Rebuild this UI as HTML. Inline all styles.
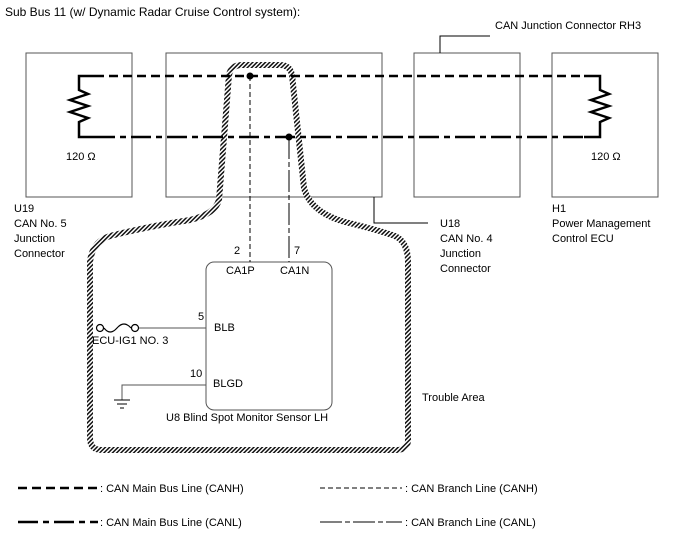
<!DOCTYPE html>
<html><head><meta charset="utf-8"><style>
body{margin:0;background:#fff}
svg{display:block;font-family:"Liberation Sans",Arial,sans-serif;font-size:11px}
</style></head><body>
<svg width="688" height="560" viewBox="0 0 688 560">
<defs>
<pattern id="h" width="3" height="3" patternUnits="userSpaceOnUse" patternTransform="rotate(45)">
<rect width="3" height="3" fill="#fff"/><rect width="1.5" height="3" fill="#111"/>
</pattern>
</defs>
<text x="5" y="16" font-size="12">Sub Bus 11 (w/ Dynamic Radar Cruise Control system):</text>
<g fill="none" stroke="#555" stroke-width="1">
<rect x="26" y="53" width="106" height="144"/>
<rect x="166" y="53" width="216" height="144"/>
<rect x="414" y="53" width="106" height="144"/>
<rect x="552" y="53" width="106" height="144"/>
<rect x="206" y="262" width="126" height="148" rx="8"/>
</g>
<!-- trouble area -->
<path d="M219,200 L229,75 Q231,65 242,65 L280,65 Q290,65 292,75 L304,188 Q310,212 345,222 Q378,230 395,236 Q408,242 408,262 L408,440 Q408,450 396,450 L102,450 Q90,450 90,438 L90,262 Q92,242 110,236 Q150,226 190,220 Q215,214 219,200 Z" fill="none" stroke="url(#h)" stroke-width="6"/>
<g fill="none" stroke="#000">
<!-- resistors -->
<path d="M95,76 L79,76 L79,90 L88,94 L70,100 L88,106 L70,112 L88,118 L79,122 L79,137 L95,137" stroke-width="2.5"/>
<path d="M584,76 L600,76 L600,90 L609,94 L591,100 L609,106 L591,112 L609,118 L600,122 L600,137 L584,137" stroke-width="2.5"/>
<line x1="95" y1="76" x2="584" y2="76" stroke-width="2.5" stroke-dasharray="9,5"/>
<line x1="95" y1="137" x2="584" y2="137" stroke-width="2.5" stroke-dasharray="20,5,6,5"/>
<line x1="250" y1="76" x2="250" y2="262" stroke-width="1" stroke-dasharray="5,3"/>
<line x1="289" y1="137" x2="289" y2="262" stroke-width="1" stroke-dasharray="22,3,5,3"/>
<!-- leaders -->
<path d="M440,53 L440,36 L490,36" stroke-width="1"/>
<path d="M374,197 L374,223 L428,223" stroke-width="1"/>
<!-- fuse / ground -->
<circle cx="100" cy="328" r="3.5" stroke-width="1.2"/>
<circle cx="135" cy="328" r="3.5" stroke-width="1.2"/>
<path d="M104,328 Q110,336 117,328 Q124,320 131,328" stroke-width="1.2"/>
<line x1="139" y1="328" x2="206" y2="328" stroke="#555"/>
<path d="M206,385 L122,385 L122,400" stroke="#555"/>
<line x1="114" y1="400" x2="130" y2="400"/>
<line x1="117" y1="404" x2="127" y2="404"/>
<line x1="120" y1="408" x2="124" y2="408"/>
<!-- legend -->
<line x1="18" y1="488" x2="98" y2="488" stroke-width="2.5" stroke-dasharray="9,5"/>
<line x1="320" y1="488" x2="402" y2="488" stroke-width="1" stroke-dasharray="5,3"/>
<line x1="18" y1="522" x2="98" y2="522" stroke-width="2.5" stroke-dasharray="20,5,6,5"/>
<line x1="320" y1="522" x2="402" y2="522" stroke-width="1" stroke-dasharray="22,3,5,3"/>
</g>
<circle cx="250" cy="76" r="3.5"/><circle cx="289" cy="137" r="3.5"/>
<text x="66" y="160">120 Ω</text>
<text x="591" y="160">120 Ω</text>
<text x="495" y="29">CAN Junction Connector RH3</text>
<text x="14" y="212">U19</text><text x="14" y="227">CAN No. 5</text><text x="14" y="242">Junction</text><text x="14" y="257">Connector</text>
<text x="440" y="227">U18</text><text x="440" y="242">CAN No. 4</text><text x="440" y="257">Junction</text><text x="440" y="272">Connector</text>
<text x="552" y="212">H1</text><text x="552" y="227">Power Management</text><text x="552" y="242">Control ECU</text>
<text x="234" y="254">2</text><text x="294" y="254">7</text>
<text x="226" y="274">CA1P</text><text x="280" y="274">CA1N</text>
<text x="198" y="320">5</text><text x="214" y="331">BLB</text>
<text x="92" y="344">ECU-IG1 NO. 3</text>
<text x="190" y="377">10</text><text x="213" y="387">BLGD</text>
<text x="166" y="421">U8  Blind Spot Monitor Sensor LH</text>
<text x="422" y="401">Trouble Area</text>
<text x="100" y="492">: CAN Main Bus Line (CANH)</text>
<text x="405" y="492">: CAN Branch Line (CANH)</text>
<text x="100" y="526">: CAN Main Bus Line (CANL)</text>
<text x="405" y="526">: CAN Branch Line (CANL)</text>
</svg>
</body></html>
